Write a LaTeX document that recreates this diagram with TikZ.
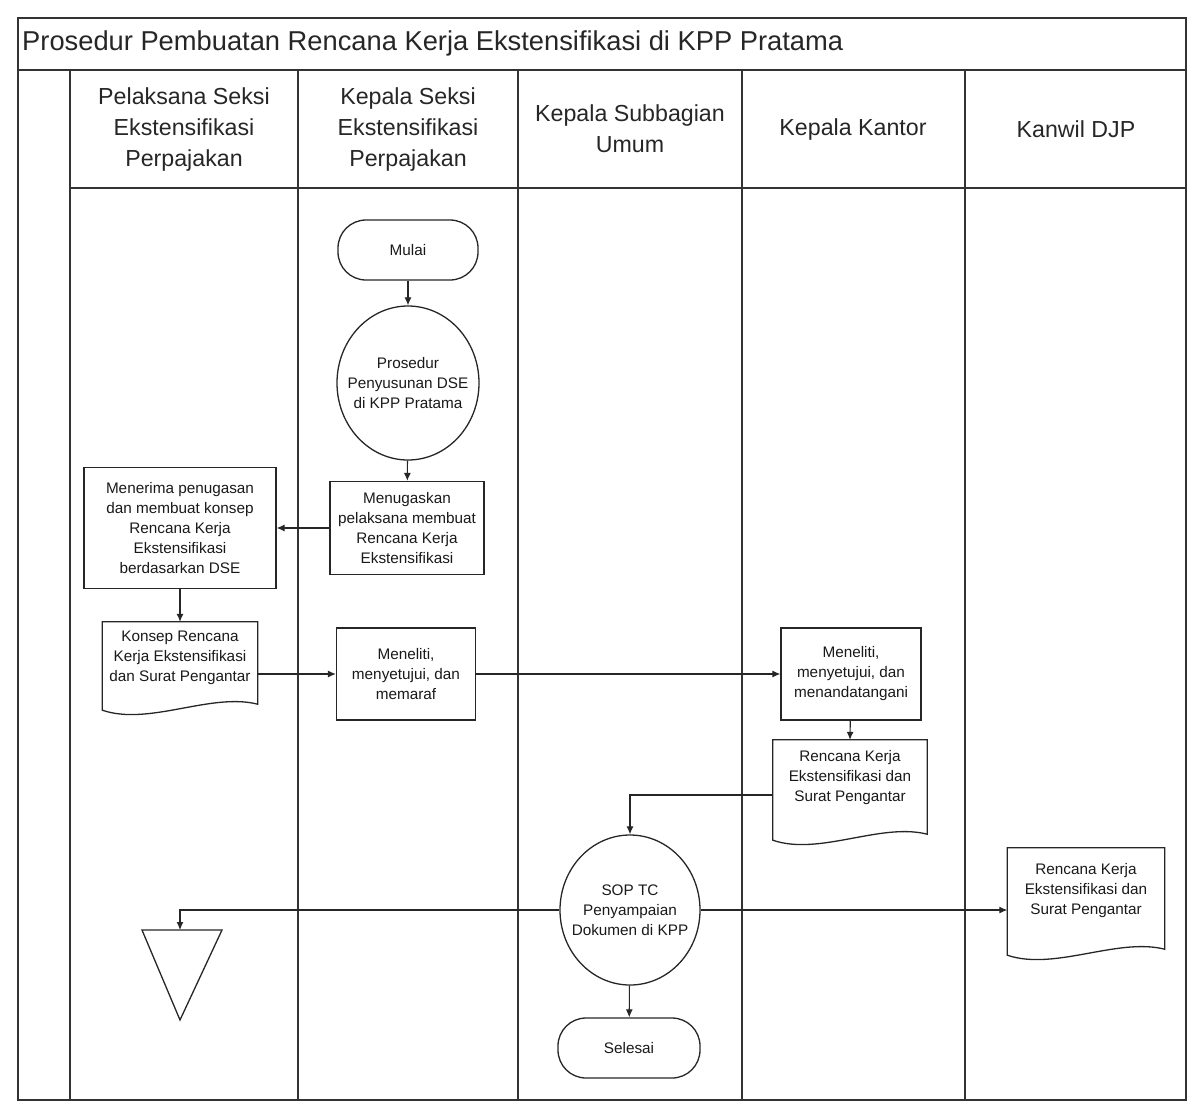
\documentclass[tikz,border=0pt]{standalone}
\usepackage{fontspec}
\setmainfont{Liberation Sans}
\usetikzlibrary{arrows.meta,calc,shapes.geometric}
\newcommand{\docshape}[2]{%
  \draw[docline] (#1.north west) -- (#1.north east) -- ($(#1.south east)+(0pt,-#2)+(0pt,6pt)$)
    .. controls ($(#1.south east)!0.3!(#1.south west)+(0pt,-#2)+(0pt,18pt)$)
    and ($(#1.south east)!0.7!(#1.south west)+(0pt,-#2)+(0pt,-16pt)$)
    .. ($(#1.south west)+(0pt,-#2)$) -- cycle;}
\begin{document}
\begin{tikzpicture}[x=1pt,y=-1pt,
  lane/.style={line width=1.3pt,draw=black!80},
  hdr/.style={align=center,font=\fontsize{23.2}{31}\selectfont,text=black!85},
  txt/.style={align=center,font=\fontsize{15.3}{20}\selectfont,text=black!90,inner sep=1pt},
  proc/.style={txt,draw=black!85,line width=1.3pt,minimum width=#1},
  term/.style={txt,draw=black!85,line width=1.3pt,rounded corners=28pt,minimum width=140pt,minimum height=60pt},
  conn/.style={ellipse,draw=black!85,line width=1.3pt,inner sep=0pt},
  docnode/.style={txt,draw=none,minimum width=#1},
  docline/.style={draw=black!85,line width=1.3pt},
  flow/.style={-{Latex[length=8pt,width=7pt]},line width=1.1pt,draw=black!85}]
\useasboundingbox (0,0) rectangle (1188,1103);
% frame and lanes
\draw[lane] (18,18) rectangle (1186,1100);
\draw[lane] (18,70) -- (1186,70);
\draw[lane] (70,188) -- (1186,188);
\foreach \x in {70,298,518,742,965} {\draw[lane] (\x,70) -- (\x,1100);}
% title
\node[anchor=west,font=\fontsize{27.3}{30}\selectfont,text=black!85,inner sep=0pt] (title) at (22,43) {Prosedur Pembuatan Rencana Kerja Ekstensifikasi di KPP Pratama};
% headers
\node[hdr] (h1) at (184,129) {Pelaksana Seksi\\Ekstensifikasi\\Perpajakan};
\node[hdr] (h2) at (408,129) {Kepala Seksi\\Ekstensifikasi\\Perpajakan};
\node[hdr] (h3) at (630,129) {Kepala Subbagian\\Umum};
\node[hdr] (h4) at (853,129) {Kepala Kantor};
\node[hdr] (h5) at (1076,129) {Kanwil DJP};
% nodes
\node[term] (mulai) at (408,250) {Mulai};
\node[conn,minimum width=142pt,minimum height=154pt] (pros) at (408,383) {};
\node[txt] (prostxt) at (pros.center) {Prosedur\\Penyusunan DSE\\di KPP Pratama};
\node[proc=154pt,minimum height=93pt] (tugas) at (407,528) {Menugaskan\\pelaksana membuat\\Rencana Kerja\\Ekstensifikasi};
\node[proc=192pt,minimum height=121pt] (terima) at (180,528) {Menerima penugasan\\dan membuat konsep\\Rencana Kerja\\Ekstensifikasi\\berdasarkan DSE};
\node[docnode=155pt,minimum height=72pt] (konsep) at (180,658) {Konsep Rencana\\Kerja Ekstensifikasi\\dan Surat Pengantar};
\docshape{konsep}{16pt}
\node[proc=139pt,minimum height=92pt] (teliti1) at (406,674) {Meneliti,\\menyetujui, dan\\memaraf};
\node[proc=140pt,minimum height=92pt] (teliti2) at (851,674) {Meneliti,\\menyetujui, dan\\menandatangani};
\node[docnode=154pt,minimum height=76pt] (rencana) at (850,778) {Rencana Kerja\\Ekstensifikasi dan\\Surat Pengantar};
\docshape{rencana}{24pt}
\node[conn,minimum width=140pt,minimum height=150pt] (sop) at (630,910) {};
\node[txt] (soptxt) at (sop.center) {SOP TC\\Penyampaian\\Dokumen di KPP};
\node[docnode=157pt,minimum height=86pt] (kanwil) at (1086,891) {Rencana Kerja\\Ekstensifikasi dan\\Surat Pengantar};
\docshape{kanwil}{21pt}
\node[term,minimum width=142pt] (selesai) at (629,1048) {Selesai};
\coordinate (tritop) at (180,930);
\draw[docline] (142,930) -- (222,930) -- (180,1020) -- cycle;
% connectors
\draw[flow] (mulai) -- (pros);
\draw[flow] (pros) -- (tugas);
\draw[flow] (tugas.west) -- (terima.east);
\draw[flow] (terima) -- (konsep.north);
\draw[flow] (konsep.east |- teliti1.west) -- (teliti1.west);
\draw[flow] (teliti1.east) -- (teliti2.west);
\draw[flow] (teliti2) -- (rencana.north);
\draw[flow] ([yshift=-17pt]rencana.west) -| (sop.north);
\draw[flow] (sop.west) -| (tritop);
\draw[flow] (sop.east) -- (sop.east -| kanwil.west);
\draw[flow] (sop) -- (selesai);
\end{tikzpicture}
\end{document}
